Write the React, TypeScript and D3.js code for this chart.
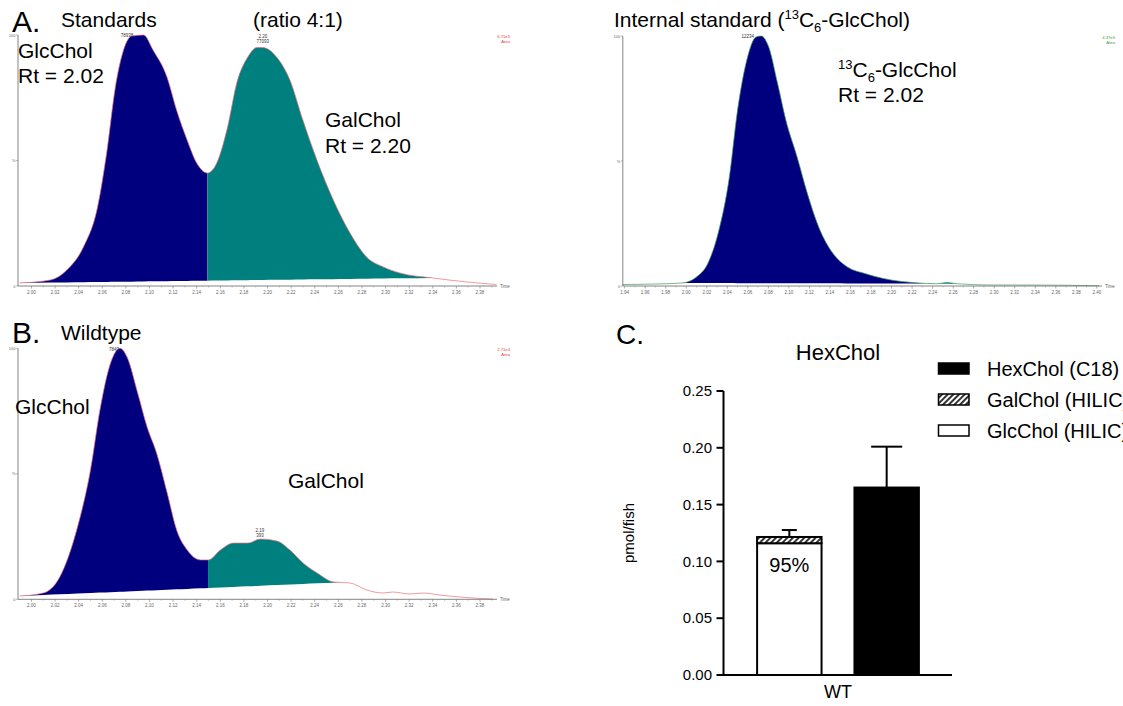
import React from 'react';
import * as d3 from 'd3';

const FONT = '"Liberation Sans", Arial, Helvetica, sans-serif';

// A. standards GlcChol + GalChol (4:1) - time (min) / relative intensity (%)
const stdTime = [1.990, 2.016, 2.030, 2.044, 2.056, 2.064, 2.071, 2.078, 2.085, 2.095, 2.103, 2.115, 2.123, 2.132, 2.140, 2.149, 2.157, 2.166, 2.174, 2.183, 2.191, 2.196, 2.208, 2.219, 2.230, 2.242, 2.256, 2.270, 2.284, 2.298, 2.312, 2.340, 2.369, 2.394];
const stdIntensity = [1.2, 2.4, 6.4, 15.5, 31.5, 54, 79, 94, 99.6, 100, 94, 83, 70, 58, 49, 45, 49, 63, 81, 91, 95, 95, 91, 82, 66, 50, 34, 21, 11.5, 7.6, 5.2, 3.2, 1.6, 0.6];
const stdWindows = [[1.990, 2.149], [2.149, 2.340]];
const stdBaselines = [[1.990, 2.340], [1.990, 2.340]];
const stdPeakLabels = [
    { t: 2.081, v: 98.5, lines: ['78938'] },
    { t: 2.196, v: 96.2, lines: ['2.20', '77093'] },
];

// internal standard 13C6-GlcChol
const isTime = [1.938, 1.970, 1.996, 2.010, 2.021, 2.031, 2.042, 2.050, 2.059, 2.068, 2.073, 2.080, 2.089, 2.097, 2.108, 2.118, 2.129, 2.143, 2.157, 2.174, 2.192, 2.227, 2.244, 2.254, 2.264, 2.297, 2.332, 2.402];
const isIntensity = [0.6, 0.8, 1.2, 3.6, 9, 21, 43.6, 70.4, 90.4, 99.6, 100, 96, 81, 66.4, 51.6, 37, 23.6, 13, 7.6, 5, 3, 1.2, 0.9, 1.4, 0.9, 0.4, 0.4, 0.1];
const isWindows = [[1.996, 2.240], [2.244, 2.266]];
const isBaselines = [[1.996, 2.240], [2.244, 2.266]];
const isPeakLabels = [{ t: 2.060, v: 98.4, lines: ['12234'] }];

// B. wildtype
const wtTime = [1.990, 2.010, 2.024, 2.039, 2.050, 2.058, 2.067, 2.075, 2.081, 2.090, 2.098, 2.106, 2.115, 2.123, 2.132, 2.143, 2.150, 2.160, 2.171, 2.183, 2.194, 2.208, 2.219, 2.230, 2.242, 2.256, 2.270, 2.284, 2.298, 2.306, 2.321, 2.332, 2.346, 2.363, 2.391];
const wtIntensity = [1.3, 2.5, 8.9, 28.8, 51.5, 75.4, 94.1, 100, 96.5, 82.2, 68.6, 58.3, 42.4, 27.6, 19.6, 15.7, 15.7, 19.6, 22.4, 22.4, 24, 23.2, 19.6, 14.5, 10.5, 6.9, 6.5, 3.7, 2.5, 2.9, 2.1, 2.5, 1.7, 0.9, 0.1];
const wtWindows = [[1.990, 2.1496], [2.1496, 2.2614]];
const wtBaselines = [[1.990, 2.2614], [1.990, 2.2614]];
const wtPeakLabels = [
    { t: 2.070, v: 98.1, lines: ['7849'] },
    { t: 2.1936, v: 24, lines: ['2.19', '393'] },
];

const abTicks = ['2.00', '2.02', '2.04', '2.06', '2.08', '2.10', '2.12', '2.14', '2.16', '2.18', '2.20', '2.22', '2.24', '2.26', '2.28', '2.30', '2.32', '2.34', '2.36', '2.38'];
const isTicks = ['1.94', '1.96', '1.98', '2.00', '2.02', '2.04', '2.06', '2.08', '2.10', '2.12', '2.14', '2.16', '2.18', '2.20', '2.22', '2.24', '2.26', '2.28', '2.30', '2.32', '2.34', '2.36', '2.38', '2.40'];

// C. HexChol quantification (pmol/fish)
const barKeys = ['HILIC', 'C18'];
const glcHilic = [0.116];
const galHilic = [0.0055];
const hilicErr = [0.0061];
const hexC18 = [0.165];
const hexErr = [0.036];
const barTicks = [0, 0.05, 0.1, 0.15, 0.2, 0.25];
const legendLabels = ['HexChol (C18)', 'GalChol (HILIC)', 'GlcChol (HILIC)'];

const peakColors = ['#00007f', '#007f7f'];

const Chromatogram = ({ id, time, intensity, windows, baselines, trace, box, domain, ticks, peakLabels, scaleText, scaleColor }) => {
    const x = d3.scaleLinear().domain(domain).range([box.left, box.right]);
    const y = d3.scaleLinear().domain([0, 100]).range([box.bottom, box.top]);
    const at = d3.scaleLinear().domain(time).range(intensity).clamp(true);
    const pts = time.map((t, i) => [t, intensity[i]]);

    const line = d3.line()
        .x(d => x(d[0]))
        .y(d => y(d[1]))
        .curve(d3.curveMonotoneX);

    const tickVals = ticks.map(Number);
    const minor = tickVals.map(t => t + 0.01).filter(t => t < domain[1]);

    return (
        <g>
            <defs>
                {windows.map(([a, b], i) => (
                    <clipPath id={`${id}-clip${i}`} key={i}>
                        <rect x={x(a)} y={box.top - 5} width={x(b) - x(a)} height={box.bottom - box.top + 5} />
                    </clipPath>
                ))}
            </defs>
            {windows.map((w, i) => {
                const [b0, b1] = baselines[i];
                const base = d3.scaleLinear().domain([b0, b1]).range([at(b0), at(b1)]);
                const area = d3.area()
                    .x(d => x(d[0]))
                    .y0(d => y(base(d[0])))
                    .y1(d => y(d[1]))
                    .curve(d3.curveMonotoneX);
                return (
                    <path key={i} d={area(pts)} fill={peakColors[i % 2]} clipPath={`url(#${id}-clip${i})`} />
                );
            })}
            <path d={line(pts)} fill="none" stroke={trace} strokeWidth={0.7} />

            {/* axes */}
            <line x1={box.left} x2={box.left} y1={box.top} y2={box.bottom} stroke="#666" strokeWidth={0.8} />
            <line x1={box.left} x2={box.right} y1={box.bottom} y2={box.bottom} stroke="#666" strokeWidth={0.8} />
            {tickVals.map((t, i) => (
                <g key={i}>
                    <line x1={x(t)} x2={x(t)} y1={box.bottom} y2={box.bottom + 2.5} stroke="#777" strokeWidth={0.6} />
                    <text x={x(t)} y={box.bottom + 7.5} fontSize={4.5} textAnchor="middle" fill="#666">{ticks[i]}</text>
                </g>
            ))}
            {minor.map((t, i) => (
                <line key={i} x1={x(t)} x2={x(t)} y1={box.bottom} y2={box.bottom + 1.5} stroke="#888" strokeWidth={0.5} />
            ))}
            <text x={box.right + 3} y={box.bottom + 1.5} fontSize={4.5} fill="#666">Time</text>
            {[[100, '100'], [50, '%'], [0, '0']].map(([v, s]) => (
                <g key={s}>
                    <line x1={box.left - 2} x2={box.left} y1={y(v)} y2={y(v)} stroke="#777" strokeWidth={0.5} />
                    <text x={box.left - 2.5} y={y(v) + 1.5} fontSize={4} textAnchor="end" fill="#666">{s}</text>
                </g>
            ))}

            {peakLabels.map((p, i) => (
                <text key={i} x={x(p.t)} fontSize={4.5} textAnchor="middle" fill="#333">
                    {p.lines.map((l, j) => (
                        <tspan key={j} x={x(p.t)} y={y(p.v) - 2 - (p.lines.length - 1 - j) * 4.8}>{l}</tspan>
                    ))}
                </text>
            ))}
            {scaleText.map((s, i) => (
                <text key={i} x={box.right + 13} y={box.top + 3 + i * 4.5} fontSize={4.2} textAnchor="end" fill={scaleColor}>{s}</text>
            ))}
        </g>
    );
};

const BarChart = () => {
    const y = d3.scaleLinear().domain([0, 0.25]).range([675, 391]);
    const x = d3.scaleBand().domain(barKeys).range([721, 955]).paddingInner(0.338).paddingOuter(0.371);
    const bw = x.bandwidth();

    const hx = x('HILIC');
    const cx = x('C18');
    const hilicTop = glcHilic[0] + galHilic[0];

    return (
        <g fontFamily={FONT}>
            <defs>
                <pattern id="hatch" patternUnits="userSpaceOnUse" width={4} height={4} patternTransform="rotate(45)">
                    <rect width={4} height={4} fill="#fff" />
                    <line x1={1} y1={0} x2={1} y2={4} stroke="#000" strokeWidth={1.6} />
                </pattern>
            </defs>

            <text x={616} y={344} fontSize={28}>C.</text>
            <text x={838} y={360} fontSize={22} textAnchor="middle">HexChol</text>

            {/* y axis */}
            <line x1={y.range()[0] ? 723.5 : 0} x2={723.5} y1={y(0)} y2={y(0.25)} stroke="#000" strokeWidth={2} />
            {barTicks.map(t => (
                <g key={t}>
                    <line x1={716.5} x2={723.5} y1={y(t)} y2={y(t)} stroke="#000" strokeWidth={2} />
                    <text x={712} y={y(t)} dy="0.35em" fontSize={15} textAnchor="end">{d3.format('.2f')(t)}</text>
                </g>
            ))}
            <text transform={`translate(634,${y(0.125)}) rotate(-90)`} fontSize={15} textAnchor="middle">pmol/fish</text>

            {/* error bars */}
            <line x1={hx + bw / 2} x2={hx + bw / 2} y1={y(hilicTop)} y2={y(hilicTop + hilicErr[0])} stroke="#000" strokeWidth={2} />
            <line x1={hx + bw / 2 - 7.5} x2={hx + bw / 2 + 7.5} y1={y(hilicTop + hilicErr[0])} y2={y(hilicTop + hilicErr[0])} stroke="#000" strokeWidth={2} />
            <line x1={cx + bw / 2} x2={cx + bw / 2} y1={y(hexC18[0])} y2={y(hexC18[0] + hexErr[0])} stroke="#000" strokeWidth={2} />
            <line x1={cx + bw / 2 - 15.5} x2={cx + bw / 2 + 15.5} y1={y(hexC18[0] + hexErr[0])} y2={y(hexC18[0] + hexErr[0])} stroke="#000" strokeWidth={2} />

            {/* stacked HILIC bar */}
            <rect x={hx} y={y(glcHilic[0])} width={bw} height={y(0) - y(glcHilic[0])} fill="#fff" stroke="#000" strokeWidth={2} />
            <rect x={hx} y={y(hilicTop)} width={bw} height={y(glcHilic[0]) - y(hilicTop)} fill="url(#hatch)" stroke="#000" strokeWidth={2} />
            <text x={hx + bw / 2} y={572} fontSize={20} textAnchor="middle">95%</text>

            {/* C18 bar */}
            <rect x={cx} y={y(hexC18[0])} width={bw} height={y(0) - y(hexC18[0])} fill="#000" stroke="#000" strokeWidth={2} />

            {/* x axis */}
            <line x1={717} x2={952} y1={y(0)} y2={y(0)} stroke="#000" strokeWidth={2} />
            <text x={838} y={698} fontSize={18} textAnchor="middle">WT</text>

            {/* legend */}
            {legendLabels.map((l, i) => {
                const cy = 368.5 + i * 31;
                const fill = i === 0 ? '#000' : i === 1 ? 'url(#hatch)' : '#fff';
                return (
                    <g key={l}>
                        <rect x={938.5} y={cy - 5.5} width={30.5} height={11} fill={fill} stroke="#000" strokeWidth={1.5} />
                        <text x={987} y={cy} dy="0.36em" fontSize={20}>{l}</text>
                    </g>
                );
            })}
        </g>
    );
};

const App = () => {
    const boxA = { left: 18, right: 497, top: 35, bottom: 286 };
    const boxIS = { left: 622.8, right: 1102, top: 36, bottom: 286 };
    const boxB = { left: 18, right: 497, top: 348.3, bottom: 599.3 };

    return (
        <svg width={1123} height={706} style={{ position: 'absolute', left: 0, top: 0, background: '#fff' }} fontFamily={FONT}>
            <rect width={1123} height={706} fill="#fff" />

            <Chromatogram id="std" time={stdTime} intensity={stdIntensity} windows={stdWindows} baselines={stdBaselines}
                trace="#e8707a" box={boxA} domain={[1.9886, 2.3944]} ticks={abTicks} peakLabels={stdPeakLabels}
                scaleText={['6.71e5', 'Area']} scaleColor="#e23a3a" />
            <Chromatogram id="is" time={isTime} intensity={isIntensity} windows={isWindows} baselines={isBaselines}
                trace="#3f9a55" box={boxIS} domain={[1.9382, 2.405]} ticks={isTicks} peakLabels={isPeakLabels}
                scaleText={['4.37e5', 'Area']} scaleColor="#3a9a3a" />
            <Chromatogram id="wt" time={wtTime} intensity={wtIntensity} windows={wtWindows} baselines={wtBaselines}
                trace="#e8707a" box={boxB} domain={[1.9886, 2.3944]} ticks={abTicks} peakLabels={wtPeakLabels}
                scaleText={['2.71e4', 'Area']} scaleColor="#e23a3a" />

            {/* panel A text */}
            <text x={12} y={32} fontSize={30}>A.</text>
            <text x={61} y={27} fontSize={21}>Standards</text>
            <text x={253} y={27} fontSize={21}>(ratio 4:1)</text>
            <text x={18} y={58} fontSize={21}>GlcChol</text>
            <text x={18} y={83} fontSize={21}>Rt = 2.02</text>
            <text x={325} y={127} fontSize={21}>GalChol</text>
            <text x={325} y={153} fontSize={21}>Rt = 2.20</text>

            {/* internal standard text */}
            <text x={614} y={27} fontSize={21}>
                Internal standard (<tspan fontSize={13} dy={-8}>13</tspan><tspan dy={8}>C</tspan><tspan fontSize={13} dy={5}>6</tspan><tspan dy={-5}>-GlcChol)</tspan>
            </text>
            <text x={838} y={77} fontSize={21}>
                <tspan fontSize={13} dy={-8}>13</tspan><tspan dy={8}>C</tspan><tspan fontSize={13} dy={5}>6</tspan><tspan dy={-5}>-GlcChol</tspan>
            </text>
            <text x={838} y={102} fontSize={21}>Rt = 2.02</text>

            {/* panel B text */}
            <text x={12} y={343} fontSize={30}>B.</text>
            <text x={61} y={340} fontSize={21}>Wildtype</text>
            <text x={15} y={414} fontSize={21}>GlcChol</text>
            <text x={288} y={488} fontSize={21}>GalChol</text>

            <BarChart />
        </svg>
    );
};

export default App;
